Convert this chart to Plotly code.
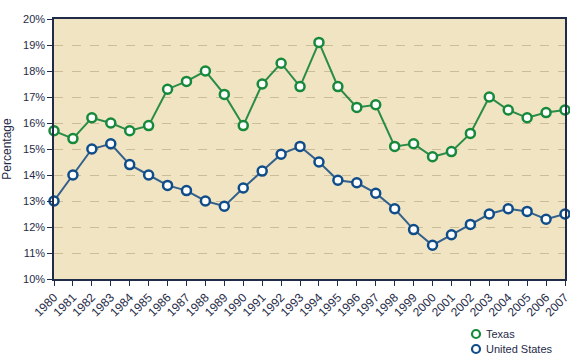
import plotly.graph_objects as go

years = list(range(1980, 2008))
texas = [15.7, 15.4, 16.2, 16.0, 15.7, 15.9, 17.3, 17.6, 18.0, 17.1, 15.9, 17.5, 18.3, 17.4,
         19.1, 17.4, 16.6, 16.7, 15.1, 15.2, 14.7, 14.9, 15.6, 17.0, 16.5, 16.2, 16.4, 16.5]
us = [13.0, 14.0, 15.0, 15.2, 14.4, 14.0, 13.6, 13.4, 13.0, 12.8, 13.5, 14.15, 14.8, 15.1,
      14.5, 13.8, 13.7, 13.3, 12.7, 11.9, 11.3, 11.7, 12.1, 12.5, 12.7, 12.6, 12.3, 12.5]
y_ticks = list(range(10, 21))
y_labels = [f"{v}%" for v in y_ticks]
series_names = ["Texas", "United States"]

green = "#17893a"
green_line = "#2a8c48"
blue = "#0e4d8a"
blue_line = "#33618c"
txt = "#1f2b48"

fig = go.Figure()
fig.add_trace(go.Scatter(x=years, y=texas, name=series_names[0], mode="lines+markers",
                         line=dict(color=green_line, width=2),
                         marker=dict(symbol="circle", size=9, color="white",
                                     line=dict(color=green, width=2.5)),
                         cliponaxis=False, showlegend=False))
fig.add_trace(go.Scatter(x=years, y=us, name=series_names[1], mode="lines+markers",
                         line=dict(color=blue_line, width=2),
                         marker=dict(symbol="circle", size=9, color="white",
                                     line=dict(color=blue, width=2.5)),
                         cliponaxis=False, showlegend=False))

# custom legend (marker-only swatches)
leg_x = (476 - 54) / 511
for i, (name, col) in enumerate(zip(series_names, [green, blue])):
    yy = -(334 - 279 + 15 * i) / 260
    fig.add_shape(type="circle", xref="paper", yref="paper",
                  xsizemode="pixel", ysizemode="pixel",
                  xanchor=leg_x, yanchor=yy, x0=-4, x1=4, y0=-4, y1=4,
                  line=dict(color=col, width=2.2), fillcolor="white")
    fig.add_annotation(x=leg_x, y=yy, xref="paper", yref="paper", text=name,
                       showarrow=False, xanchor="left", yanchor="middle", xshift=8,
                       font=dict(size=11, color=txt))

fig.update_layout(
    width=570, height=364,
    margin=dict(l=54, r=5, t=19, b=85, autoexpand=False),
    paper_bgcolor="white",
    plot_bgcolor="#f1e4c3",
    font=dict(family="Arial, Liberation Sans, sans-serif", size=11, color=txt),
    showlegend=False,
    xaxis=dict(range=[1980, 2007], tickmode="array", tickvals=years,
               ticktext=[str(y) for y in years], tickangle=-45, automargin=False,
               ticklabeloverflow="allow",
               showgrid=False, zeroline=False, showline=True, linecolor=txt,
               linewidth=1.5, mirror=True, ticks="outside", ticklen=5,
               tickcolor=txt, tickfont=dict(size=12, color=txt)),
    yaxis=dict(range=[10, 20], tickmode="array", tickvals=y_ticks, ticktext=y_labels,
               automargin=False, ticklabeloverflow="allow",
               showgrid=True, gridcolor="#cbbd97", griddash="dash", gridwidth=1,
               zeroline=False, showline=True, linecolor=txt, linewidth=1.5, mirror=True,
               ticks="outside", ticklen=5, tickcolor=txt,
               title=dict(text="Percentage", font=dict(size=12, color=txt), standoff=14),
               tickfont=dict(size=11, color=txt)),
)

fig.write_html("out.html", config={"displayModeBar": False},
               post_script="document.body.style.margin='0';")
